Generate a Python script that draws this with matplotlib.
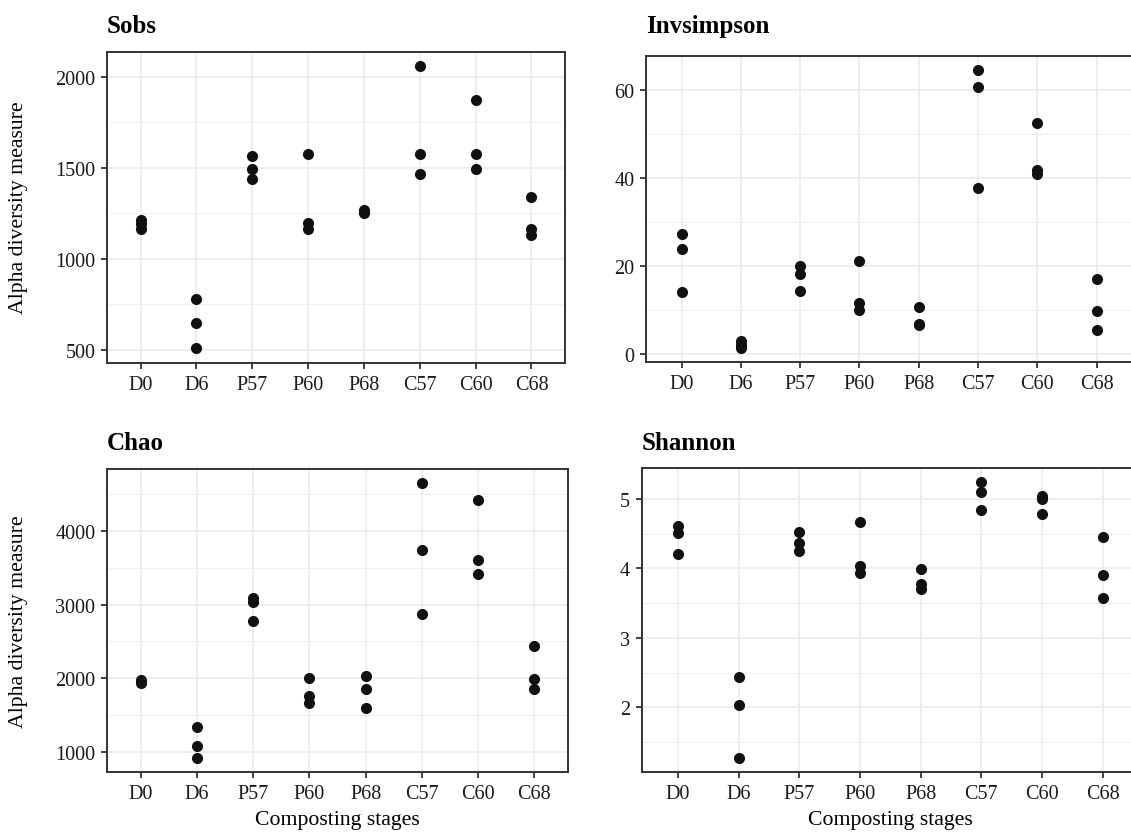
import matplotlib
matplotlib.use("Agg")
import matplotlib.pyplot as plt
import numpy as np

plt.rcParams['font.family'] = ['Liberation Serif', 'DejaVu Serif']

categories = ["D0", "D6", "P57", "P60", "P68", "C57", "C60", "C68"]

# three replicate values per composting stage
sobs = [
    [1214, 1190, 1160],
    [779, 646, 507],
    [1562, 1490, 1436],
    [1577, 1197, 1164],
    [1268, 1258, 1250],
    [2059, 1573, 1464],
    [1869, 1572, 1495],
    [1340, 1161, 1131],
]
invsimpson = [
    [27.1, 23.8, 13.9],
    [2.9, 2.0, 1.3],
    [20.0, 18.0, 14.1],
    [21.1, 11.4, 10.0],
    [10.5, 6.7, 6.4],
    [64.4, 60.6, 37.6],
    [52.3, 41.8, 40.9],
    [17.0, 9.7, 5.4],
]
chao = [
    [1975, 1950, 1930],
    [1334, 1077, 910],
    [3086, 3041, 2784],
    [2000, 1757, 1667],
    [2032, 1851, 1600],
    [4658, 3749, 2869],
    [4424, 3608, 3419],
    [2438, 1982, 1856],
]
shannon = [
    [4.61, 4.51, 4.20],
    [2.44, 2.03, 1.27],
    [4.52, 4.36, 4.25],
    [4.67, 4.04, 3.94],
    [3.99, 3.77, 3.71],
    [5.24, 5.10, 4.84],
    [5.04, 4.99, 4.78],
    [4.45, 3.91, 3.57],
]

panel_titles = ["Sobs", "Invsimpson", "Chao", "Shannon"]
major_ticks = [[500, 1000, 1500, 2000], [0, 20, 40, 60], [1000, 2000, 3000, 4000], [2, 3, 4, 5]]
minor_ticks = [[750, 1250, 1750], [10, 30, 50], [1500, 2500, 3500, 4500], [1.5, 2.5, 3.5, 4.5]]
ylabel = "Alpha diversity measure"
xlabel = "Composting stages"

W, H = 1131, 837
fig = plt.figure(figsize=(W / 100, H / 100), dpi=100)


def rect(l, r, t, b):
    return [l / W, 1 - b / H, (r - l) / W, (b - t) / H]


# pixel boxes: left, right, top, bottom (right column runs past the canvas edge)
boxes = [(107, 565, 52.7, 363.5), (646, 1132.3, 57.3, 362.7),
         (107, 568, 470, 773), (641.6, 1139, 469.3, 773)]
title_baselines = [33.3, 33.3, 450, 450]

grid_col = "#ebebeb"
border_col = "#333333"
text_col = "#1a1a1a"

datasets = [sobs, invsimpson, chao, shannon]
for i, (data, box) in enumerate(zip(datasets, boxes)):
    ax = fig.add_axes(rect(*box))
    xs, ys = [], []
    for ci, vals in enumerate(data):
        for v in vals:
            xs.append(ci)
            ys.append(v)
    ax.scatter(xs, ys, s=64, color="#111111", linewidths=0, zorder=3)
    ymin, ymax = min(ys), max(ys)
    pad = (ymax - ymin) * 0.05
    ax.set_ylim(ymin - pad, ymax + pad)
    ax.set_xlim(-0.6, len(categories) - 0.4)
    ax.set_xticks(range(len(categories)))
    ax.set_xticklabels(categories)
    ax.set_yticks(major_ticks[i])
    ax.set_yticks(minor_ticks[i], minor=True)
    ax.set_axisbelow(True)
    ax.grid(True, which="major", color=grid_col, linewidth=1.2)
    ax.grid(True, which="minor", axis="y", color=grid_col, linewidth=0.6)
    ax.tick_params(which="minor", length=0)
    ax.tick_params(which="major", length=4.3, width=1.3, color=border_col,
                   labelsize=14.5, labelcolor=text_col)
    ax.tick_params(axis="x", pad=4.5)
    ax.tick_params(axis="y", pad=4)
    for sp in ax.spines.values():
        sp.set_color(border_col)
        sp.set_linewidth(1.4)
    if i in (1, 3):
        ax.spines["right"].set_visible(False)
    l, r, t, b = box
    fig.text(l / W, 1 - title_baselines[i] / H, panel_titles[i], fontsize=18,
             fontweight="bold", ha="left", va="baseline", color="black")
    if i in (0, 2):
        fig.text(19 / W, 1 - ((t + b) / 2) / H, ylabel, rotation=90, fontsize=15.7,
                 ha="center", va="center", color="black")
    if i in (2, 3):
        fig.text(((l + r) / 2) / W, 1 - 825 / H, xlabel, fontsize=15.7,
                 ha="center", va="baseline", color="black")

fig.savefig("out.png", dpi=100)
